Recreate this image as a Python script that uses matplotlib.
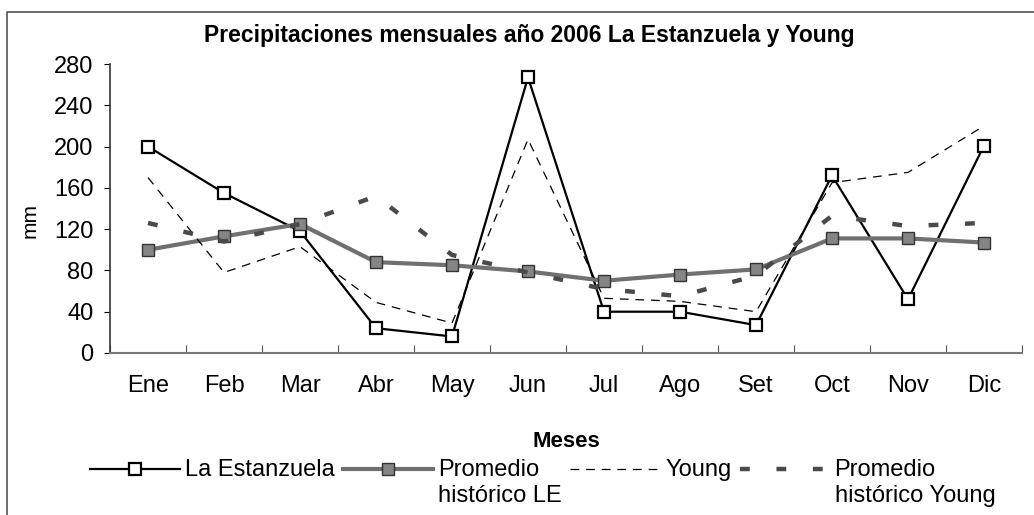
import numpy as np
import matplotlib.pyplot as plt
from matplotlib.lines import Line2D

plt.rcParams['font.family'] = ['Liberation Sans', 'DejaVu Sans']

months = ['Ene', 'Feb', 'Mar', 'Abr', 'May', 'Jun', 'Jul', 'Ago', 'Set', 'Oct', 'Nov', 'Dic']
la_estanzuela = [200, 155, 118, 24, 16, 267, 40, 40, 27, 172, 52, 201]
prom_le = [100, 113, 125, 88, 85, 79, 70, 76, 81, 111, 111, 107]
young = [170, 78, 103, 49, 29, 207, 53, 50, 40, 165, 175, 220]
prom_young = [126, 108, 125, 152, 95, 78, 62, 55, 75, 133, 123, 126]

x = np.arange(len(months))

fig = plt.figure(figsize=(10.34, 5.15), dpi=100)
ax = fig.add_axes([0.1064, 0.3146, 0.882, 0.5611])

l1, = ax.plot(x, la_estanzuela, color='black', lw=1.6, marker='s', ms=8.5,
              mfc='white', mec='black', mew=1.6, label='La Estanzuela')
l2, = ax.plot(x, prom_le, color='#707070', lw=3.0, marker='s', ms=8.5,
              mfc='#858585', mec='#333333', mew=1.0, label='Promedio\nhistórico LE')
l3, = ax.plot(x, young, color='black', lw=0.9, dashes=(7, 5.5), label='Young')
l4, = ax.plot(x, prom_young, color='#4a4a4a', lw=3.2, dashes=(2.2, 6),
              label='Promedio\nhistórico Young')

ax.set_xlim(-0.5, 11.5)
ax.set_ylim(0, 280)
ax.set_yticks(np.arange(0, 281, 40))
ax.set_xticks(np.arange(-0.5, 12, 1))
ax.set_xticklabels([])
ax.set_xticks(x, minor=True)
ax.set_xticklabels(months, minor=True)
ax.tick_params(axis='x', which='major', direction='in', length=6, color='#555555')
ax.tick_params(axis='x', which='minor', length=0, pad=16, labelsize=17)
ax.tick_params(axis='y', direction='out', length=4, pad=8, labelsize=17)

for s in ['top', 'right']:
    ax.spines[s].set_visible(False)
ax.spines['left'].set_color('#333333')
ax.spines['bottom'].set_color('#777777')
ax.spines['left'].set_linewidth(1.2)
ax.spines['bottom'].set_linewidth(1.5)

ax.set_ylabel('mm', fontsize=15)
ax.yaxis.set_label_coords(-0.077, 0.46)
ax.set_xlabel('Meses', fontsize=16, fontweight='bold')
ax.xaxis.set_label_coords(0.5, -0.27)

fig.text(0.512, 0.932, 'Precipitaciones mensuales año 2006 La Estanzuela y Young',
         ha='center', va='center', fontsize=16.5, fontweight='bold')

leg = fig.legend(handles=[l1, l2, l3, l4], loc='upper center', ncol=4,
                 bbox_to_anchor=(0.525, 0.108), frameon=False, fontsize=17,
                 handlelength=3.8, handleheight=1.2, handletextpad=0.22,
                 columnspacing=0.35, borderpad=0, borderaxespad=0,
                 labelspacing=0.2)
# line up each handle with the first line of its label, as in the original
leg._legend_handle_box.align = 'top'
for col in leg._legend_handle_box.get_children():
    col.align = 'left'
    for item in col.get_children():
        item.align = 'top'

# chart frame: only the top and left edges survive in the scan
fig.add_artist(Line2D([0.007, 0.007, 1.0], [0.0, 0.977, 0.977],
                      transform=fig.transFigure, color='#555555', lw=1.2))

plt.savefig('out.png', dpi=100)
